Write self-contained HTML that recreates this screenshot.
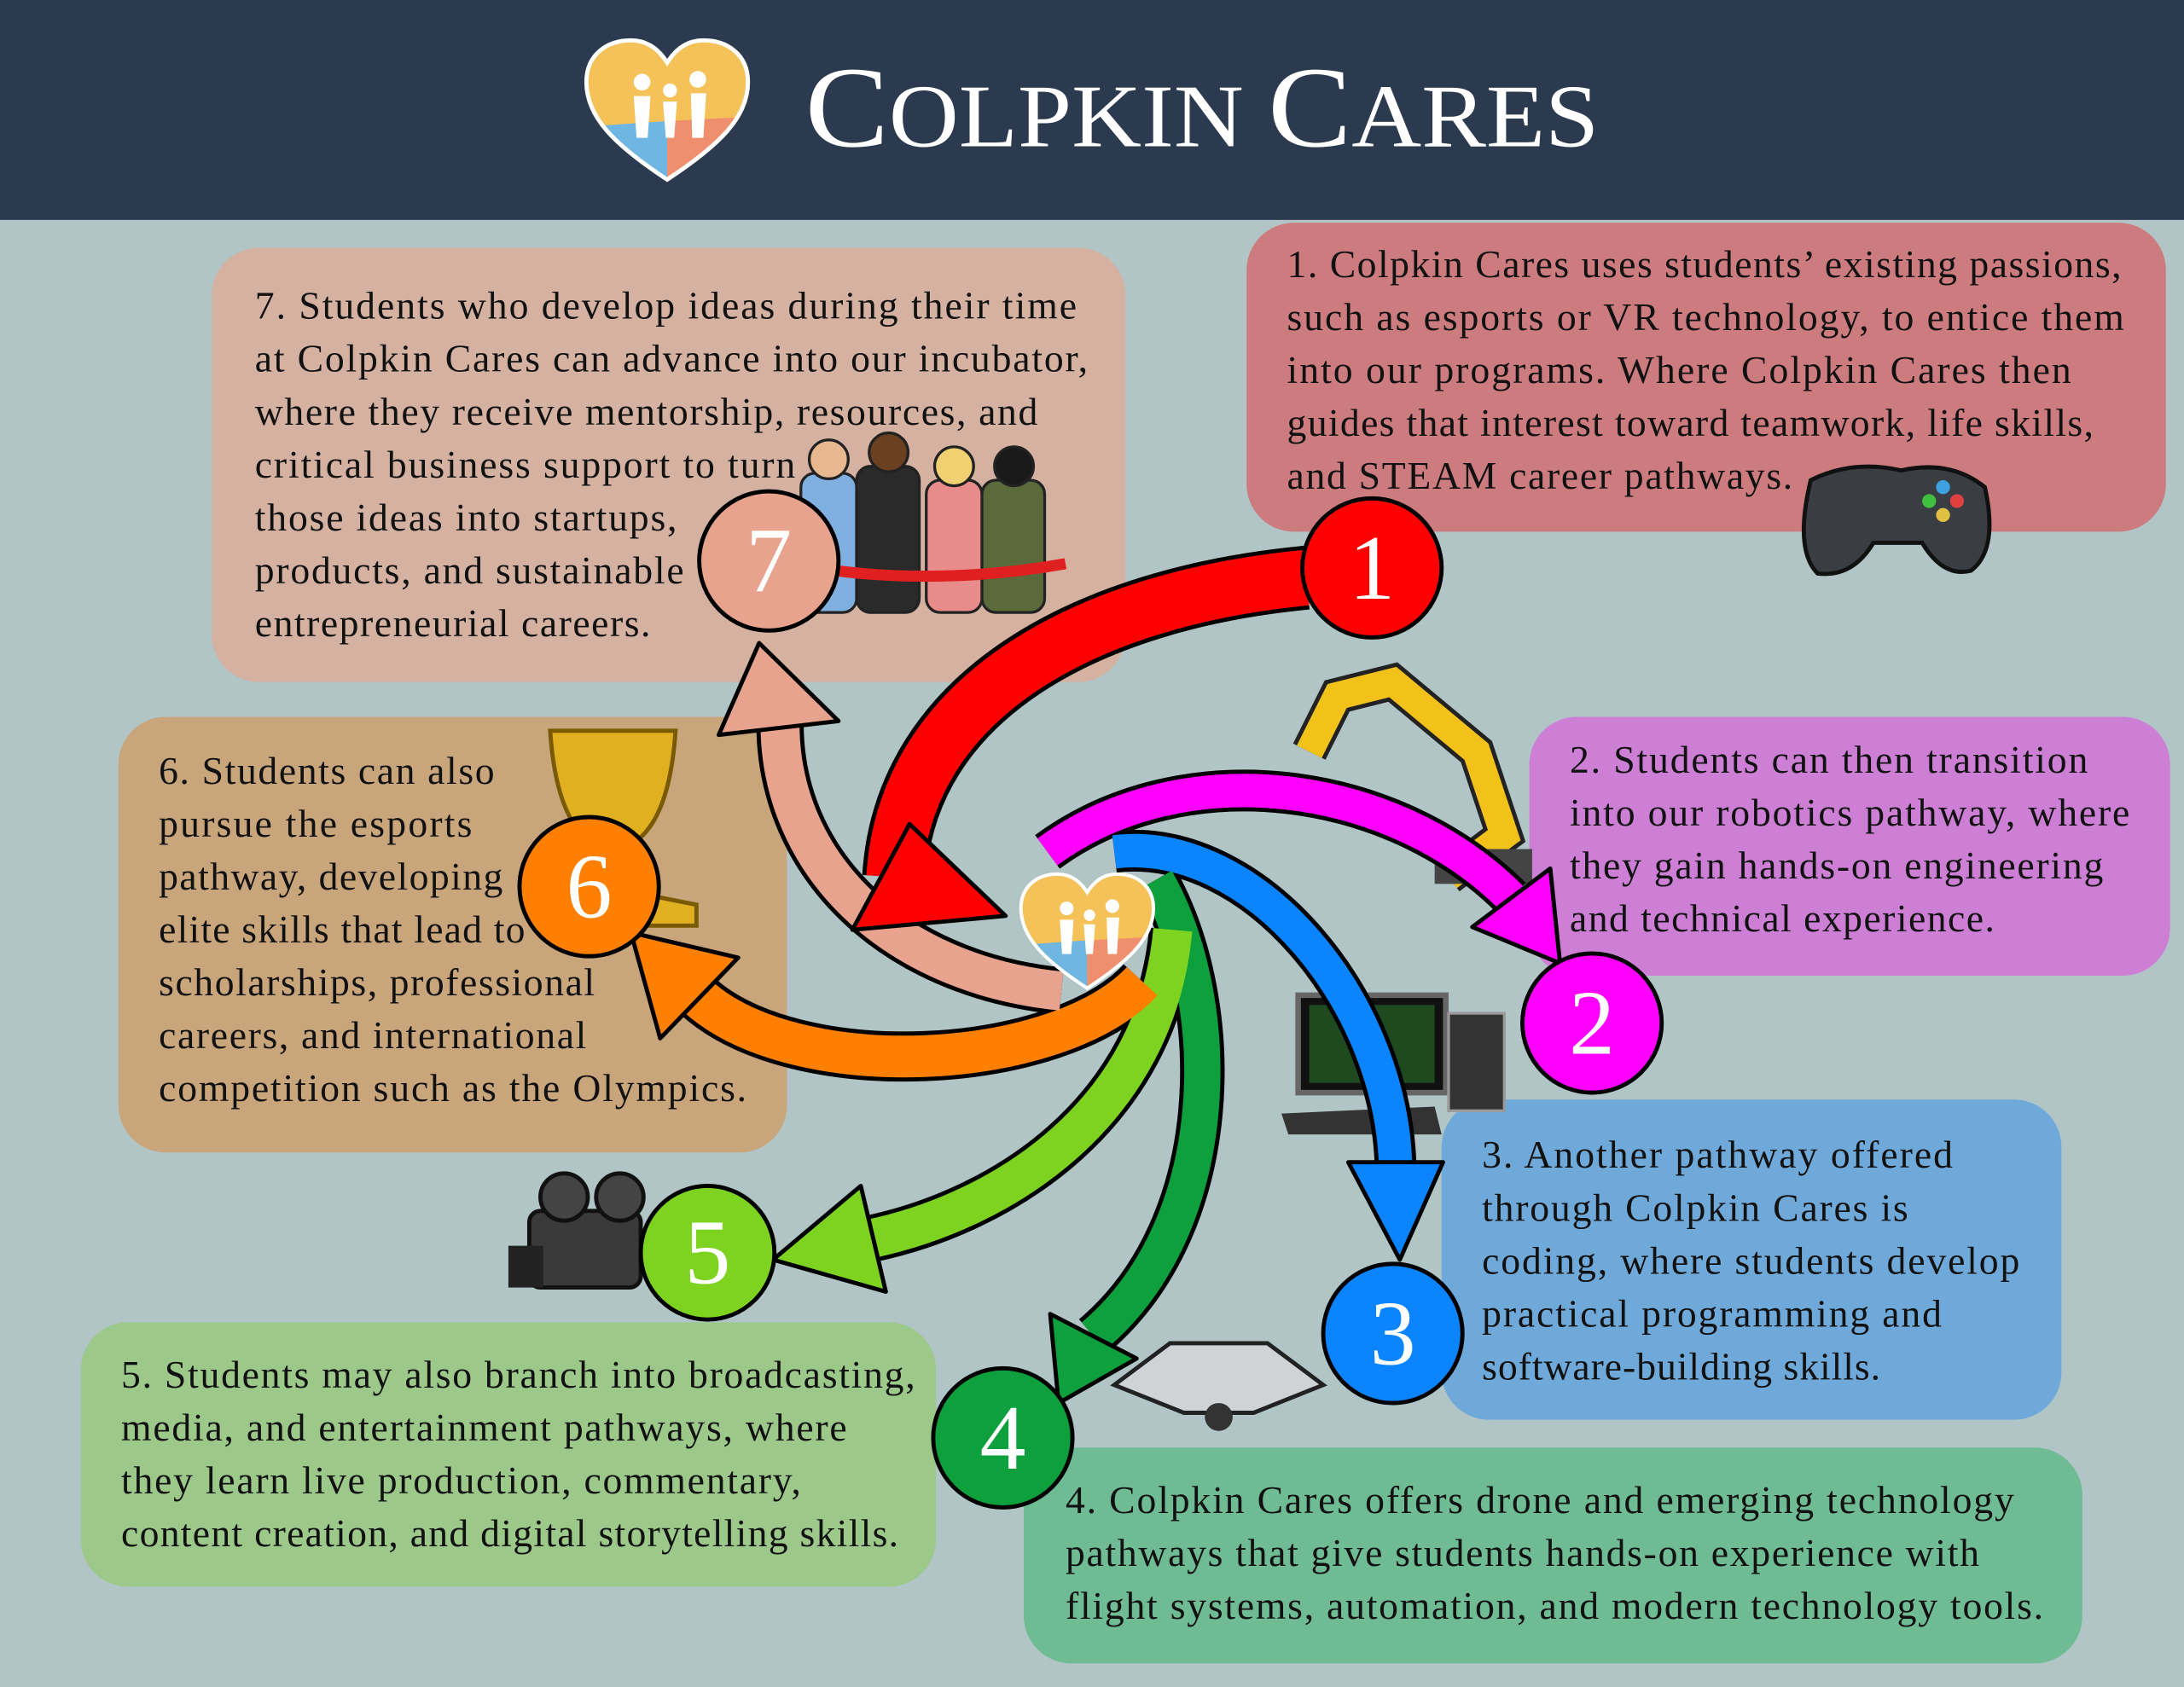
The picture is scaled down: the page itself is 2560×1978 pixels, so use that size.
<!DOCTYPE html>
<html><head><meta charset="utf-8"><style>
html,body{margin:0;padding:0;background:#b1c4c6;}
svg{display:block;}
text{font-family:"Liberation Serif",serif;}
</style></head><body>
<svg width="2560" height="1978" viewBox="0 0 1568 1212" preserveAspectRatio="none" xmlns="http://www.w3.org/2000/svg">
<defs>
<clipPath id="hc"><path d="M58 100 C20 75 0 55 0 30 C0 10 15 0 32 0 C45 0 53 8 58 16 C63 8 71 0 84 0 C101 0 116 10 116 30 C116 55 96 75 58 100Z"/></clipPath>
<g id="heart">
<g clip-path="url(#hc)">
<rect x="0" y="0" width="116" height="102" fill="#f5c25a"/>
<polygon points="0,62 58,58 58,102 0,102" fill="#6fb6e3"/>
<polygon points="58,58 116,55 116,102 58,102" fill="#ef8f6e"/>
</g>
<path d="M58 100 C20 75 0 55 0 30 C0 10 15 0 32 0 C45 0 53 8 58 16 C63 8 71 0 84 0 C101 0 116 10 116 30 C116 55 96 75 58 100Z" fill="none" stroke="#fff" stroke-width="3"/>
<circle cx="40" cy="30" r="6" fill="#fff"/><circle cx="60" cy="36" r="5" fill="#fff"/><circle cx="80" cy="28" r="6" fill="#fff"/>
<path d="M34 40 L46 40 L44 70 L36 70Z M55 44 L65 44 L63 70 L57 70Z M75 38 L86 38 L84 70 L76 70Z" fill="#fff"/>
</g>
</defs>
<rect width="1568" height="1212" fill="#b1c4c6"/>
<rect width="1568" height="158" fill="#2b3a4e"/>
<use href="#heart" x="421" y="29"/>
<text x="578" y="105" fill="#fff" textLength="570" lengthAdjust="spacingAndGlyphs"><tspan font-size="83">C</tspan><tspan font-size="64">OLPKIN </tspan><tspan font-size="83">C</tspan><tspan font-size="64">ARES</tspan></text>

<!-- boxes -->
<rect x="152" y="178" width="656" height="312" rx="34" fill="#d4b1a0"/>
<rect x="895" y="160" width="660" height="222" rx="34" fill="#cc7b7e"/>
<rect x="1098" y="515" width="460" height="186" rx="34" fill="#cc7fd4"/>
<rect x="85" y="515" width="480" height="313" rx="34" fill="#c9a57c"/>
<rect x="1035" y="790" width="445" height="230" rx="34" fill="#6fa9d9"/>
<rect x="58" y="950" width="614" height="190" rx="34" fill="#9cc98a"/>
<rect x="735" y="1040" width="760" height="155" rx="34" fill="#6fbb93"/>

<!-- images (rough) -->
<g>
<path d="M1300 345 Q1330 330 1365 338 Q1400 330 1425 350 Q1435 395 1415 410 Q1395 415 1380 390 L1345 390 Q1330 415 1305 412 Q1288 395 1300 345Z" fill="#3a3d42" stroke="#111" stroke-width="3"/>
<circle cx="1395" cy="350" r="5" fill="#3fa0e0"/><circle cx="1405" cy="360" r="5" fill="#e04040"/><circle cx="1385" cy="360" r="5" fill="#40c040"/><circle cx="1395" cy="370" r="5" fill="#e0c040"/>
<path d="M1040 630 L1080 600 L1060 540 L1000 490 L960 500 L940 540" fill="none" stroke="#222" stroke-width="26"/>
<path d="M1040 630 L1080 600 L1060 540 L1000 490 L960 500 L940 540" fill="none" stroke="#f2c21b" stroke-width="20"/>
<rect x="1030" y="610" width="70" height="25" fill="#444"/>
<rect x="932" y="715" width="106" height="70" fill="#111" stroke="#666" stroke-width="4"/>
<rect x="940" y="722" width="90" height="56" fill="#1f4a1f"/>
<rect x="1040" y="728" width="40" height="70" fill="#333" stroke="#999" stroke-width="2"/>
<polygon points="920,800 1030,795 1035,815 925,815" fill="#333"/>
<path d="M800 995 L840 965 L910 965 L950 995 L900 1015 L850 1015Z" fill="#cfd3d6" stroke="#222" stroke-width="3"/>
<circle cx="875" cy="1018" r="10" fill="#333"/>
<rect x="380" y="870" width="80" height="55" rx="8" fill="#3a3a3a" stroke="#111" stroke-width="3"/>
<circle cx="405" cy="860" r="17" fill="#444" stroke="#111" stroke-width="3"/><circle cx="445" cy="860" r="17" fill="#444" stroke="#111" stroke-width="3"/>
<rect x="365" y="895" width="25" height="30" fill="#222"/>
<path d="M395 525 L485 525 Q480 600 445 610 L450 640 L500 650 L500 665 L410 665 L420 640 L435 610 Q400 600 395 525Z" fill="#e0b020" stroke="#7a5a00" stroke-width="3"/>
<g stroke="#222" stroke-width="2">
<rect x="575" y="340" width="40" height="100" rx="10" fill="#7fb0e0"/>
<rect x="615" y="335" width="45" height="105" rx="10" fill="#2a2a2a"/>
<rect x="665" y="345" width="40" height="95" rx="10" fill="#e88b8b"/>
<rect x="705" y="345" width="45" height="95" rx="10" fill="#5a6a3a"/>
<circle cx="595" cy="330" r="14" fill="#e8b890"/><circle cx="638" cy="325" r="14" fill="#6a4020"/><circle cx="685" cy="335" r="14" fill="#f0d070"/><circle cx="728" cy="335" r="14" fill="#1a1a1a"/>
</g>
<path d="M600 410 Q680 420 765 405" stroke="#e02020" stroke-width="8" fill="none"/>
</g>

<!-- arrows -->
<g fill="none" stroke="#000" stroke-linecap="butt">
<path d="M938 415 C780 430 650 500 642 630" stroke-width="46"/>
<path d="M752 612 C850 540 1000 560 1085 645" stroke-width="30"/>
<path d="M800 612 C900 600 1000 720 1002 840" stroke-width="30"/>
<path d="M830 632 C880 720 880 880 785 960" stroke-width="32"/>
<path d="M842 668 C830 800 720 870 625 890" stroke-width="34"/>
<path d="M820 705 C760 770 570 780 500 715" stroke-width="36"/>
<path d="M762 712 C640 700 560 620 560 520" stroke-width="34"/>
</g>
<g fill="none">
<path d="M938 415 C780 430 650 500 642 630" stroke="#ff0000" stroke-width="40"/>
<path d="M752 612 C850 540 1000 560 1085 645" stroke="#ff00ff" stroke-width="24"/>
<path d="M800 612 C900 600 1000 720 1002 840" stroke="#0a84ff" stroke-width="24"/>
<path d="M830 632 C880 720 880 880 785 960" stroke="#0ea03c" stroke-width="26"/>
<path d="M842 668 C830 800 720 870 625 890" stroke="#7ed321" stroke-width="28"/>
<path d="M820 705 C760 770 570 780 500 715" stroke="#ff7f00" stroke-width="30"/>
<path d="M762 712 C640 700 560 620 560 520" stroke="#e8a38f" stroke-width="28"/>
</g>
<g stroke="#000" stroke-width="3" stroke-linejoin="round">
<polygon points="722,658 653,592 612,668" fill="#ff0000"/>
<polygon points="1120,692 1057,666 1113,624" fill="#ff00ff"/>
<polygon points="1005,905 968,835 1036,835" fill="#0a84ff"/>
<polygon points="760,1008 816,976 754,944" fill="#0ea03c"/>
<polygon points="555,905 636,928 618,852" fill="#7ed321"/>
<polygon points="453,670 530,688 474,746" fill="#ff7f00"/>
<polygon points="545,462 516,528 602,518" fill="#e8a38f"/>
</g>
<use href="#heart" transform="translate(733 628) scale(0.82)"/>

<!-- circles -->
<g stroke="#000" stroke-width="3">
<circle cx="985" cy="408" r="50" fill="#ff0000"/>
<circle cx="1143" cy="735" r="50" fill="#ff00ff"/>
<circle cx="1000" cy="958" r="50" fill="#0a84ff"/>
<circle cx="720" cy="1033" r="50" fill="#0ea03c"/>
<circle cx="508" cy="900" r="48" fill="#7ed321"/>
<circle cx="423" cy="637" r="50" fill="#ff7f00"/>
<circle cx="552" cy="403" r="50" fill="#e8a38f"/>
</g>
<g fill="#fff" font-size="66" text-anchor="middle">
<text x="985" y="430">1</text><text x="1143" y="757">2</text><text x="1000" y="980">3</text>
<text x="720" y="1055">4</text><text x="508" y="922">5</text><text x="423" y="659">6</text><text x="552" y="425">7</text>
</g>

<!-- text -->
<g font-size="28" fill="#111" lengthAdjust="spacingAndGlyphs">
<text x="183" y="229" textLength="590">7.  Students who develop ideas during their time</text>
<text x="183" y="267" textLength="598">at Colpkin Cares can advance into our incubator,</text>
<text x="183" y="305" textLength="562">where they receive mentorship, resources, and</text>
<text x="183" y="343" textLength="388">critical business support to turn</text>
<text x="183" y="381" textLength="303">those ideas into startups,</text>
<text x="183" y="419" textLength="308">products, and sustainable</text>
<text x="183" y="457" textLength="284">entrepreneurial careers.</text>

<text x="924" y="199" textLength="599">1. Colpkin Cares uses students’ existing passions,</text>
<text x="924" y="237" textLength="601">such as esports or VR technology, to entice them</text>
<text x="924" y="275" textLength="563">into our programs. Where Colpkin Cares then</text>
<text x="924" y="313" textLength="579">guides that interest toward teamwork, life skills,</text>
<text x="924" y="351" textLength="363">and STEAM career pathways.</text>

<text x="1127" y="555" textLength="372">2. Students can then transition</text>
<text x="1127" y="593" textLength="402">into our robotics pathway, where</text>
<text x="1127" y="631" textLength="383">they gain hands-on engineering</text>
<text x="1127" y="669" textLength="305">and technical experience.</text>

<text x="114" y="563" textLength="241">6. Students can also</text>
<text x="114" y="601" textLength="225">pursue the esports</text>
<text x="114" y="639" textLength="247">pathway, developing</text>
<text x="114" y="677" textLength="263">elite skills that lead to</text>
<text x="114" y="715" textLength="313">scholarships, professional</text>
<text x="114" y="753" textLength="307">careers, and international</text>
<text x="114" y="791" textLength="422">competition such as the Olympics.</text>

<text x="1064" y="839" textLength="338">3. Another pathway offered</text>
<text x="1064" y="877" textLength="306">through Colpkin Cares is</text>
<text x="1064" y="915" textLength="386">coding, where students develop</text>
<text x="1064" y="953" textLength="330">practical programming and</text>
<text x="1064" y="991" textLength="286">software-building skills.</text>

<text x="87" y="997" textLength="570">5. Students may also branch into broadcasting,</text>
<text x="87" y="1035" textLength="521">media, and entertainment pathways, where</text>
<text x="87" y="1073" textLength="488">they learn live production, commentary,</text>
<text x="87" y="1111" textLength="558">content creation, and digital storytelling skills.</text>

<text x="765" y="1087" textLength="681">4. Colpkin Cares offers drone and emerging technology</text>
<text x="765" y="1125" textLength="656">pathways that give students hands-on experience with</text>
<text x="765" y="1163" textLength="702">flight systems, automation, and modern technology tools.</text>
</g>
</svg>
</body></html>
